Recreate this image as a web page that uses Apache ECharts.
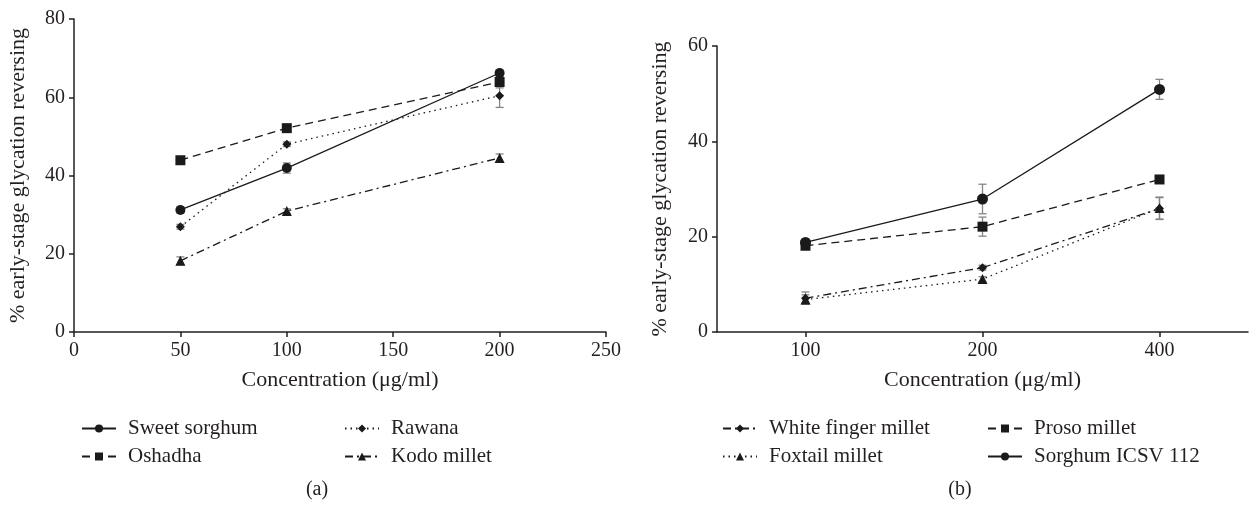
<!DOCTYPE html>
<html>
<head>
<meta charset="utf-8">
<script src="https://cdn.jsdelivr.net/npm/echarts@6/dist/echarts.min.js"></script>
<style>
html,body{margin:0;padding:0;background:#fff;}
#main{width:1257px;height:505px;}
</style>
</head>
<body>
<div id="main"></div>
<script>
// panel (a)
var concA = [50, 100, 200];
var sweetSorghum = [31.2, 41.9, 66.2];
var sweetSorghumErr = [0.8, 1.3, 0.8];
var oshadha = [43.9, 52.1, 63.9];
var oshadhaErr = [0.6, 0.6, 1.5];
var rawana = [26.9, 48.0, 60.4];
var rawanaErr = [0.6, 0.6, 3.0];
var kodoMillet = [18.2, 30.9, 44.5];
var kodoMilletErr = [1.0, 0.6, 1.0];

// panel (b)
var concB = ['100', '200', '400'];
var whiteFinger = [7.1, 13.5, 25.9];
var whiteFingerErr = [1.3, 0.5, 2.3];
var foxtail = [6.8, 11.1, 26.0];
var foxtailErr = [1.0, 0.5, 2.3];
var proso = [18.1, 22.1, 32.0];
var prosoErr = [0.8, 2.0, 0.6];
var sorghumICSV = [18.8, 27.9, 50.9];
var sorghumICSVErr = [0.6, 3.1, 2.1];

var FONT = 'Liberation Serif';
var INK = '#231f20';

var myChart = echarts.init(document.getElementById('main'));

function pairs(xs, ys){
	var out = [];
	for (var i = 0; i < ys.length; i++) {
		out.push([xs[i], ys[i]]);
	}
	return out;
}

function errData(xs, ys, es){
	var out = [];
	for (var i = 0; i < ys.length; i++) {
		out.push([xs[i], ys[i] - es[i], ys[i] + es[i]]);
	}
	return out;
}

//误差线
function errSeries(idx, xs, ys, es){
	return {
		type: 'custom',
		xAxisIndex: idx,
		yAxisIndex: idx,
		silent: true,
		z: 1,
		data: errData(xs, ys, es),
		renderItem: function(params, api){
			var lo = api.coord([api.value(0), api.value(1)]);
			var hi = api.coord([api.value(0), api.value(2)]);
			var w = 4;
			var st = {stroke: '#858585', lineWidth: 1.3};
			return {
				type: 'group',
				children: [
					{type: 'line', shape: {x1: lo[0], y1: lo[1], x2: hi[0], y2: hi[1]}, style: st},
					{type: 'line', shape: {x1: lo[0] - w, y1: lo[1], x2: lo[0] + w, y2: lo[1]}, style: st},
					{type: 'line', shape: {x1: hi[0] - w, y1: hi[1], x2: hi[0] + w, y2: hi[1]}, style: st}
				]
			};
		}
	};
}

function lineSeries(idx, name, data, symbol, size, dash){
	return {
		type: 'line',
		name: name,
		xAxisIndex: idx,
		yAxisIndex: idx,
		data: data,
		symbol: symbol,
		symbolSize: size,
		z: 3,
		itemStyle: {color: '#1a1a1a'},
		lineStyle: {color: '#1a1a1a', width: 1.3, type: dash}
	};
}

var DASH = [8, 5];
var DOT = [1.5, 4];
var DASHDOT = [8, 4, 2, 4];

var labelStyle = {fontFamily: FONT, fontSize: 20, color: INK, margin: 9};
var nameStyle = {fontFamily: FONT, fontSize: 22, color: INK};
var axisLine = {show: true, lineStyle: {color: INK, width: 1.5}};
var axisTick = {show: true, length: 5, lineStyle: {color: INK, width: 1.5}};

var legendText = {fontFamily: FONT, fontSize: 21, color: INK, padding: [0, 0, 0, 7]};

function legendBox(names, left){
	return {
		data: names, orient: 'vertical', left: left, top: 413,
		itemGap: 7, itemWidth: 34, itemHeight: 10, textStyle: legendText
	};
}

var option = {
	animation: false,
	backgroundColor: '#fff',
	title: [
		{text: '(a)', left: 312, top: 475, textAlign: 'center',
			textStyle: {fontFamily: FONT, fontSize: 20, fontWeight: 'normal', color: INK}},
		{text: '(b)', left: 955, top: 475, textAlign: 'center',
			textStyle: {fontFamily: FONT, fontSize: 20, fontWeight: 'normal', color: INK}}
	],
	legend: [
		legendBox(['Sweet sorghum', 'Oshadha'], 76),
		legendBox(['Rawana', 'Kodo millet'], 339),
		legendBox(['White finger millet', 'Foxtail millet'], 717),
		legendBox(['Proso millet', 'Sorghum ICSV 112'], 982)
	],
	grid: [
		{left: 74, top: 19, width: 532, height: 313},
		{left: 717, top: 46, width: 531, height: 286}
	],
	xAxis: [
		{
			gridIndex: 0, type: 'value', min: 0, max: 250, interval: 50,
			name: 'Concentration (\u03bcg/ml)', nameLocation: 'middle', nameGap: 37,
			nameTextStyle: nameStyle,
			axisLine: axisLine, axisTick: axisTick, splitLine: {show: false},
			axisLabel: labelStyle
		},
		{
			gridIndex: 1, type: 'category', data: concB, boundaryGap: true,
			name: 'Concentration (\u03bcg/ml)', nameLocation: 'middle', nameGap: 37,
			nameTextStyle: nameStyle,
			axisLine: axisLine,
			axisTick: {show: true, alignWithLabel: true, length: 5, lineStyle: {color: INK, width: 1.5}},
			splitLine: {show: false},
			axisLabel: labelStyle
		}
	],
	yAxis: [
		{
			gridIndex: 0, type: 'value', min: 0, max: 80, interval: 20,
			name: '% early-stage glycation reversing', nameLocation: 'middle', nameGap: 45,
			nameTextStyle: nameStyle,
			axisLine: axisLine, axisTick: axisTick, splitLine: {show: false},
			axisLabel: labelStyle
		},
		{
			gridIndex: 1, type: 'value', min: 0, max: 60, interval: 20,
			name: '% early-stage glycation reversing', nameLocation: 'middle', nameGap: 46,
			nameTextStyle: nameStyle,
			axisLine: axisLine, axisTick: axisTick, splitLine: {show: false},
			axisLabel: labelStyle
		}
	],
	series: [
		errSeries(0, concA, sweetSorghum, sweetSorghumErr),
		errSeries(0, concA, oshadha, oshadhaErr),
		errSeries(0, concA, rawana, rawanaErr),
		errSeries(0, concA, kodoMillet, kodoMilletErr),
		lineSeries(0, 'Sweet sorghum', pairs(concA, sweetSorghum), 'circle', 10, 'solid'),
		lineSeries(0, 'Oshadha', pairs(concA, oshadha), 'rect', 10, DASH),
		lineSeries(0, 'Rawana', pairs(concA, rawana), 'diamond', 9, DOT),
		lineSeries(0, 'Kodo millet', pairs(concA, kodoMillet), 'triangle', 10, DASHDOT),

		errSeries(1, [0, 1, 2], whiteFinger, whiteFingerErr),
		errSeries(1, [0, 1, 2], foxtail, foxtailErr),
		errSeries(1, [0, 1, 2], proso, prosoErr),
		errSeries(1, [0, 1, 2], sorghumICSV, sorghumICSVErr),
		lineSeries(1, 'White finger millet', whiteFinger, 'diamond', 9, DASHDOT),
		lineSeries(1, 'Foxtail millet', foxtail, 'triangle', 10, DOT),
		lineSeries(1, 'Proso millet', proso, 'rect', 10, DASH),
		lineSeries(1, 'Sorghum ICSV 112', sorghumICSV, 'circle', 11, 'solid')
	]
};

myChart.setOption(option);
</script>
</body>
</html>
